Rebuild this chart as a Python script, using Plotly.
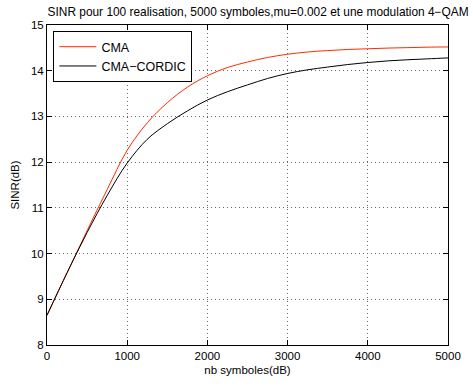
import plotly.graph_objects as go

x_cma = [0, 250, 500, 750, 1000, 1250, 1500, 1750, 2000, 2250, 2500, 2750, 3000, 3250, 3500, 3750, 4000, 4250, 4500, 4750, 5000]
y_cma = [8.65, 9.58, 10.5, 11.4, 12.26, 12.86, 13.3, 13.64, 13.89, 14.07, 14.19, 14.29, 14.36, 14.41, 14.44, 14.465, 14.48, 14.495, 14.505, 14.515, 14.52]

x_cordic = [0, 250, 500, 750, 1000, 1250, 1500, 1750, 2000, 2250, 2500, 2750, 3000, 3250, 3500, 3750, 4000, 4250, 4500, 4750, 5000]
y_cordic = [8.65, 9.58, 10.46, 11.27, 11.98, 12.5, 12.84, 13.12, 13.36, 13.54, 13.69, 13.83, 13.94, 14.02, 14.08, 14.135, 14.18, 14.215, 14.24, 14.26, 14.28]

x_ticks = [0, 1000, 2000, 3000, 4000, 5000]
y_ticks = [8, 9, 10, 11, 12, 13, 14, 15]

title_text = "SINR pour 100 realisation, 5000 symboles,mu=0.002 et une modulation 4\u2212QAM"

FONT = "Liberation Sans, Arial, Helvetica, sans-serif"

fig = go.Figure()
fig.add_trace(go.Scatter(x=x_cma, y=y_cma, mode="lines", name="CMA",
                         line=dict(color="#ff2a00", width=1, shape="spline", smoothing=1)))
fig.add_trace(go.Scatter(x=x_cordic, y=y_cordic, mode="lines", name="CMA\u2212CORDIC",
                         line=dict(color="black", width=1, shape="spline", smoothing=1)))

axis_common = dict(
    showline=True, linecolor="black", linewidth=1, mirror="ticks",
    ticks="inside", ticklen=5, tickcolor="black",
    showgrid=True, gridcolor="#666666", griddash="1px,3px", gridwidth=1,
    zeroline=False, tickfont=dict(family=FONT, size=11.5, color="black"),
)

fig.update_layout(
    width=473, height=387,
    margin=dict(l=46.5, r=16.3, t=25, b=38.7),
    paper_bgcolor="white", plot_bgcolor="white",
    font=dict(family=FONT, size=11.5, color="black"),
    title=dict(text=title_text, x=249/473, xanchor="center", xref="paper",
               y=1 - 12/387, yanchor="middle", font=dict(family=FONT, size=11.9, color="black")),
    xaxis=dict(range=[0, 5000], tickvals=x_ticks, ticktext=[str(v) for v in x_ticks],
               title=dict(text="nb symboles(dB)", standoff=5, font=dict(size=11.5)), **axis_common),
    yaxis=dict(range=[8, 15], tickvals=y_ticks, ticktext=[str(v) for v in y_ticks],
               title=dict(text="SINR(dB)", standoff=8, font=dict(size=11.5)), **axis_common),
    legend=dict(x=0.016, y=0.981, xanchor="left", yanchor="top",
                bgcolor="white", bordercolor="black", borderwidth=1,
                font=dict(family=FONT, size=12.5, color="black"),
                itemwidth=37, tracegroupgap=0),
    showlegend=True,
)

fig.write_html("out.html")
